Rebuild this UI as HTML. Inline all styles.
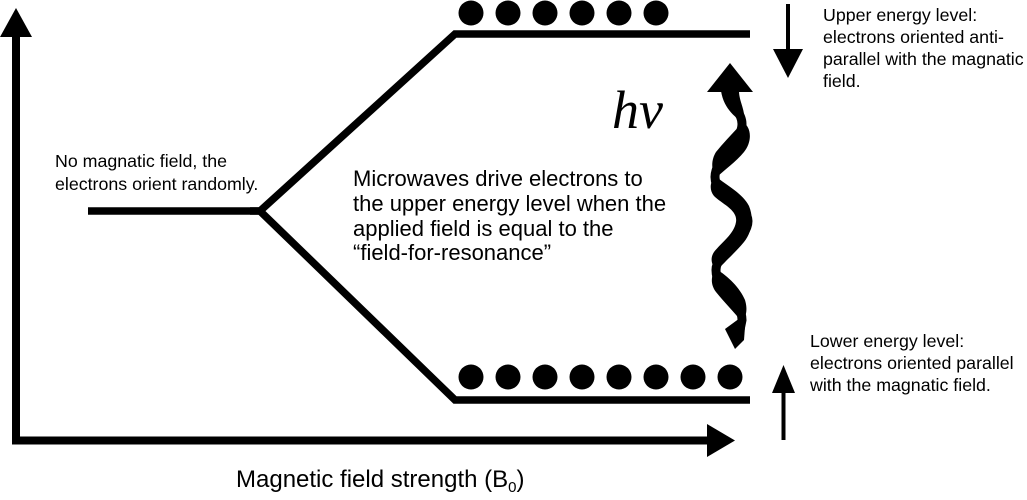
<!DOCTYPE html>
<html>
<head>
<meta charset="utf-8">
<style>
  html, body { margin: 0; padding: 0; background: #ffffff; }
  body { width: 1027px; height: 500px; overflow: hidden; }
  svg { display: block; }
  .s { font-family: "Liberation Sans", Arial, sans-serif; fill: #000; }
</style>
</head>
<body>
<svg width="1027" height="500" viewBox="0 0 1027 500" xmlns="http://www.w3.org/2000/svg">
  <rect x="0" y="0" width="1027" height="500" fill="#ffffff"/>

  <!-- Axes -->
  <polyline points="16,37 16,440.5 708,440.5" fill="none" stroke="#000" stroke-width="8" stroke-linejoin="miter"/>
  <polygon points="0,37 16,8 32,37" fill="#000"/>
  <polygon points="707,424 735,440.5 707,457" fill="#000"/>

  <!-- Energy levels -->
  <polyline points="88,211 260,211 455,34 750,34" fill="none" stroke="#000" stroke-width="7.5" stroke-linejoin="miter"/>
  <polyline points="250,211 260,211 455,400 750,400" fill="none" stroke="#000" stroke-width="7.5" stroke-linejoin="miter"/>

  <!-- Upper dots -->
  <g fill="#000">
    <circle cx="471" cy="13" r="12.5"/>
    <circle cx="508" cy="13" r="12.5"/>
    <circle cx="545" cy="13" r="12.5"/>
    <circle cx="582" cy="13" r="12.5"/>
    <circle cx="619" cy="13" r="12.5"/>
    <circle cx="656" cy="13" r="12.5"/>
  </g>
  <!-- Lower dots -->
  <g fill="#000">
    <circle cx="471" cy="377" r="12.5"/>
    <circle cx="508" cy="377" r="12.5"/>
    <circle cx="545" cy="377" r="12.5"/>
    <circle cx="582" cy="377" r="12.5"/>
    <circle cx="619" cy="377" r="12.5"/>
    <circle cx="656" cy="377" r="12.5"/>
    <circle cx="693" cy="377" r="12.5"/>
    <circle cx="730" cy="377" r="12.5"/>
  </g>

  <!-- Down arrow (upper right) -->
  <line x1="788" y1="4" x2="788" y2="52" stroke="#000" stroke-width="4"/>
  <polygon points="773,49 803,49 788,78" fill="#000"/>

  <!-- Up arrow (lower right) -->
  <line x1="783.5" y1="390" x2="783.5" y2="440" stroke="#000" stroke-width="4"/>
  <polygon points="772,393 795,393 783.5,365" fill="#000"/>

  <!-- Wavy photon arrow -->
  <g fill="#000">
    <polygon points="707,92 730,63 753,92"/>
    <!-- stem -->
    <path d="M721,91 L739,91 C739,102 746,110 744,124 C737,118 724,110 721,91 Z"/>
    <!-- band 1 -->
    <path d="M743,122 C752,128 752,142 744,152 C736,162 724,170 716,178 C711,170 711,160 716,152 C724,142 734,132 743,122 Z"/>
    <!-- band 2/3 -->
    <path d="M715,176 C728,186 743,194 749,206 C754,218 752,232 744,242 C736,252 724,262 717,271 C711,265 710,258 714,252 C722,242 734,234 736,222 C738,210 722,204 714,196 C709,190 710,182 715,176 Z"/>
    <!-- band 4 -->
    <path d="M716,269 C728,276 740,288 745,300 C748,310 746,317 742,322 C734,312 724,302 716,292 C710,284 711,275 716,269 Z"/>
    <!-- tail -->
    <polygon points="740,318 745,327 744,340 735,349 725,329"/>
  </g>
  <path d="M731,92 C731,108 742,112 742,124 C742,142 715,158 715,177 C715,198 748,205 748,221 C748,240 716,252 716,270 C716,292 742,300 742,320 L738,340" fill="none" stroke="#000" stroke-width="9"/>

  <!-- hv -->
  <text x="612" y="128" font-family="'Liberation Serif', 'Times New Roman', serif" font-style="italic" font-size="54" fill="#000">hv</text>

  <!-- Left label -->
  <text class="s" font-size="17.8" x="55" y="167">No magnatic field, the</text>
  <text class="s" font-size="17.8" x="55" y="190">electrons orient randomly.</text>

  <!-- Center label -->
  <text class="s" font-size="22" x="353" y="186">Microwaves drive electrons to</text>
  <text class="s" font-size="22" x="353" y="211">the upper energy level when the</text>
  <text class="s" font-size="22" x="353" y="236">applied field is equal to the</text>
  <text class="s" font-size="22" x="353" y="260">“field-for-resonance”</text>

  <!-- Upper right label -->
  <text class="s" font-size="17.8" x="823" y="21">Upper energy level:</text>
  <text class="s" font-size="17.8" x="823" y="43">electrons oriented anti-</text>
  <text class="s" font-size="17.8" x="823" y="65">parallel with the magnatic</text>
  <text class="s" font-size="17.8" x="823" y="87">field.</text>

  <!-- Lower right label -->
  <text class="s" font-size="17.8" x="810" y="347">Lower energy level:</text>
  <text class="s" font-size="17.8" x="810" y="369">electrons oriented parallel</text>
  <text class="s" font-size="17.8" x="810" y="391">with the magnatic field.</text>

  <!-- Axis label -->
  <text class="s" font-size="24" x="236" y="487">Magnetic field strength (B<tspan font-size="15" dy="5">0</tspan><tspan dy="-5">)</tspan></text>
</svg>
</body>
</html>
